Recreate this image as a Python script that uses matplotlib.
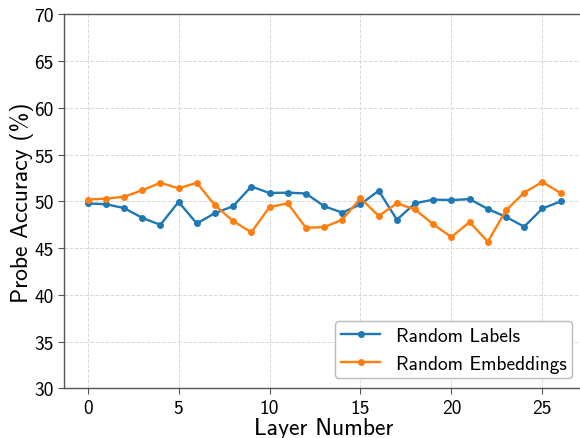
import matplotlib
matplotlib.use("Agg")
import matplotlib.pyplot as plt

plt.rcParams['font.family'] = ['cmss10', 'DejaVu Sans']
plt.rcParams['axes.unicode_minus'] = False
plt.rcParams['mathtext.fontset'] = 'cm'

layers = list(range(27))
random_labels = [49.8, 49.7, 49.3, 48.25, 47.5, 49.95, 47.65, 48.75, 49.5, 51.6,
                 50.9, 50.95, 50.85, 49.5, 48.8, 49.7, 51.15, 48.05, 49.8, 50.2,
                 50.15, 50.25, 49.2, 48.35, 47.3, 49.25, 50.0]
random_embeddings = [50.2, 50.3, 50.5, 51.2, 52.0, 51.4, 52.0, 49.6, 47.9, 46.7,
                     49.4, 49.8, 47.2, 47.25, 48.05, 50.35, 48.45, 49.8, 49.15, 47.55,
                     46.2, 47.8, 45.7, 49.05, 50.95, 52.1, 50.9]
series_names = ["Random Labels", "Random Embeddings"]
colors = ["#1f77b4", "#ff7f0e"]
yticks = [30, 35, 40, 45, 50, 55, 60, 65, 70]
xticks = [0, 5, 10, 15, 20, 25]

fig = plt.figure(figsize=(5.8, 4.39), dpi=100)
ax = fig.add_axes([0.1103, 0.1128, 0.897, 0.852])

for vals, name, c in zip([random_labels, random_embeddings], series_names, colors):
    ax.plot(layers, vals, marker='o', markersize=4, linewidth=1.7, color=c, label=name)

ax.set_ylim(30, 70)
ax.set_xlim(-1.3, 27.3)
ax.set_yticks(yticks)
ax.set_xticks(xticks)
ax.grid(True, linestyle='--', color='#d8d8d8', linewidth=0.7)
for s in ax.spines.values():
    s.set_color('#555555')
    s.set_linewidth(1.0)
ax.tick_params(labelsize=14, color='#555555', length=4)
ax.set_xlabel("Layer Number", fontsize=17, labelpad=0)
ax.set_ylabel("Probe Accuracy (%)", fontsize=17, labelpad=0)
leg = ax.legend(loc='lower right', fontsize=14, frameon=True, fancybox=True,
                edgecolor='#bbbbbb', framealpha=1.0, borderpad=0.3,
                borderaxespad=0, bbox_to_anchor=(0.977, 0.027),
                handlelength=2.0, handletextpad=0.8)
leg.get_frame().set_linewidth(1.0)

fig.savefig("out.png", dpi=100)
